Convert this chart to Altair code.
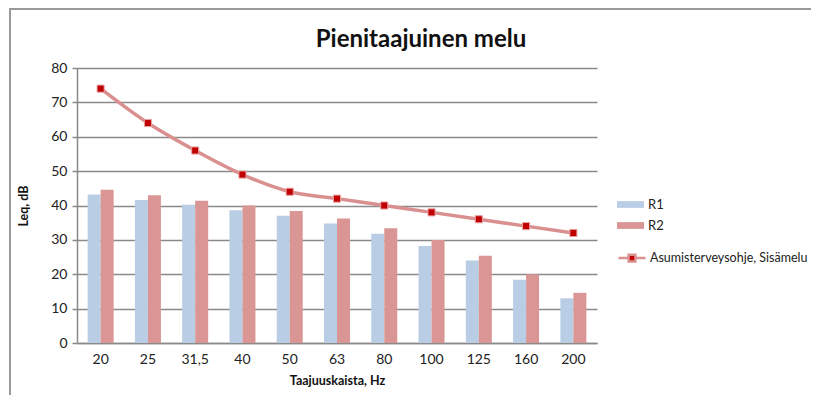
import altair as alt
import pandas as pd

bands = ["20", "25", "31,5", "40", "50", "63", "80", "100", "125", "160", "200"]
r1 = [43.2, 41.6, 40.2, 38.6, 37.0, 34.8, 31.8, 28.2, 24.0, 18.4, 13.0]
r2 = [44.6, 43.0, 41.4, 40.0, 38.4, 36.2, 33.4, 30.0, 25.4, 20.0, 14.6]
guide = [74, 64, 56, 49, 44, 42, 40, 38, 36, 34, 32]
guide_name = "Asumisterveysohje, Sisämelu"

bars = pd.DataFrame(
    [{"band": b, "series": "R1", "value": v} for b, v in zip(bands, r1)]
    + [{"band": b, "series": "R2", "value": v} for b, v in zip(bands, r2)]
)
line_df = pd.DataFrame({"band": bands, "value": guide, "series": guide_name})

FONT = "Lato"
W, H = 520, 275

x_enc = alt.X(
    "band:N",
    sort=bands,
    scale=alt.Scale(paddingInner=0.45, paddingOuter=0.225),
    axis=alt.Axis(
        title="Taajuuskaista,  Hz",
        labelAngle=0,
        ticks=False,
        labelPadding=9,
        titlePadding=8,
        labelFontSize=14,
        titleFontSize=12.5,
        titleFontWeight="bold",
        domainColor="#8a8a8a",
        domainWidth=1.5,
        grid=False,
    ),
)
y_enc = alt.Y(
    "value:Q",
    scale=alt.Scale(domain=[0, 80]),
    axis=alt.Axis(
        title="Leq, dB",
        values=list(range(0, 81, 10)),
        labelOverlap=False,
        tickSize=5,
        tickColor="#8a8a8a",
        tickWidth=1.5,
        labelPadding=5,
        titlePadding=20,
        labelFontSize=14,
        titleFontSize=12.5,
        titleFontWeight="bold",
        domainColor="#8a8a8a",
        domainWidth=1.5,
        gridColor="#8a8a8a",
        gridWidth=1.5,
    ),
)

bar_layer = alt.Chart(bars).mark_bar().encode(
    x=x_enc,
    xOffset=alt.XOffset("series:N", sort=["R1", "R2"]),
    y=y_enc,
    color=alt.Color(
        "series:N",
        scale=alt.Scale(domain=["R1", "R2"], range=["#B9CDE5", "#D99694"]),
        legend=alt.Legend(
            title=None,
            orient="none",
            legendX=540,
            legendY=123,
            symbolType="M-1,-0.25H1V0.25H-1Z",
            symbolSize=729,
            symbolStrokeWidth=0,
            rowPadding=-1,
            labelOffset=4,
            labelFontSize=13,
            labelFont=FONT,
            labelColor="#222222",
        ),
    ),
)

line_layer = alt.Chart(line_df).mark_line(
    interpolate="monotone", strokeWidth=3.5
).encode(
    x=x_enc,
    y=y_enc,
    stroke=alt.Stroke(
        "series:N",
        scale=alt.Scale(domain=[guide_name], range=["#D9908F"]),
        legend=alt.Legend(
            title=None,
            orient="none",
            legendX=540,
            legendY=175,
            symbolType="M-1,0H-0.25M0.25,0H1M-0.25,-0.25H0.25V0.25H-0.25Z",
            symbolSize=729,
            symbolStrokeWidth=2.5,
            symbolFillColor="#C00000",
            labelOffset=3,
            labelFontSize=12.5,
            labelLimit=300,
            labelFont=FONT,
            labelColor="#222222",
        ),
    ),
)

point_layer = alt.Chart(line_df).mark_point(
    shape="square", filled=True, size=50, color="#C00000",
    stroke="#E8A0A0", strokeWidth=1, opacity=1
).encode(
    x=x_enc,
    y=y_enc,
)

border = alt.Chart(pd.DataFrame({"k": [0]})).mark_rect(
    fill=None, stroke="#9a9a9a", strokeWidth=2
).encode(
    x=alt.value(-67), x2=alt.value(W + 260),
    y=alt.value(-59), y2=alt.value(H + 100),
)

chart = alt.layer(border, bar_layer, line_layer, point_layer).resolve_scale(
    color="independent", stroke="independent"
).properties(
    width=W,
    height=H,
    autosize=alt.AutoSizeParams(type="none"),
    padding={"left": 69, "top": 60, "right": 214, "bottom": 52},
    title=alt.TitleParams(
        "Pienitaajuinen melu",
        fontSize=24,
        fontWeight="bold",
        font=FONT,
        color="#111111",
        anchor="middle",
        frame="group",
        baseline="bottom",
        dx=84,
        offset=-68,
    ),
).configure(
    font=FONT,
).configure_axis(
    labelFont=FONT,
    titleFont=FONT,
    labelColor="#222222",
    titleColor="#111111",
).configure_view(
    stroke=None,
)

chart.save("out.html", embed_options={"renderer": "svg", "actions": False})
